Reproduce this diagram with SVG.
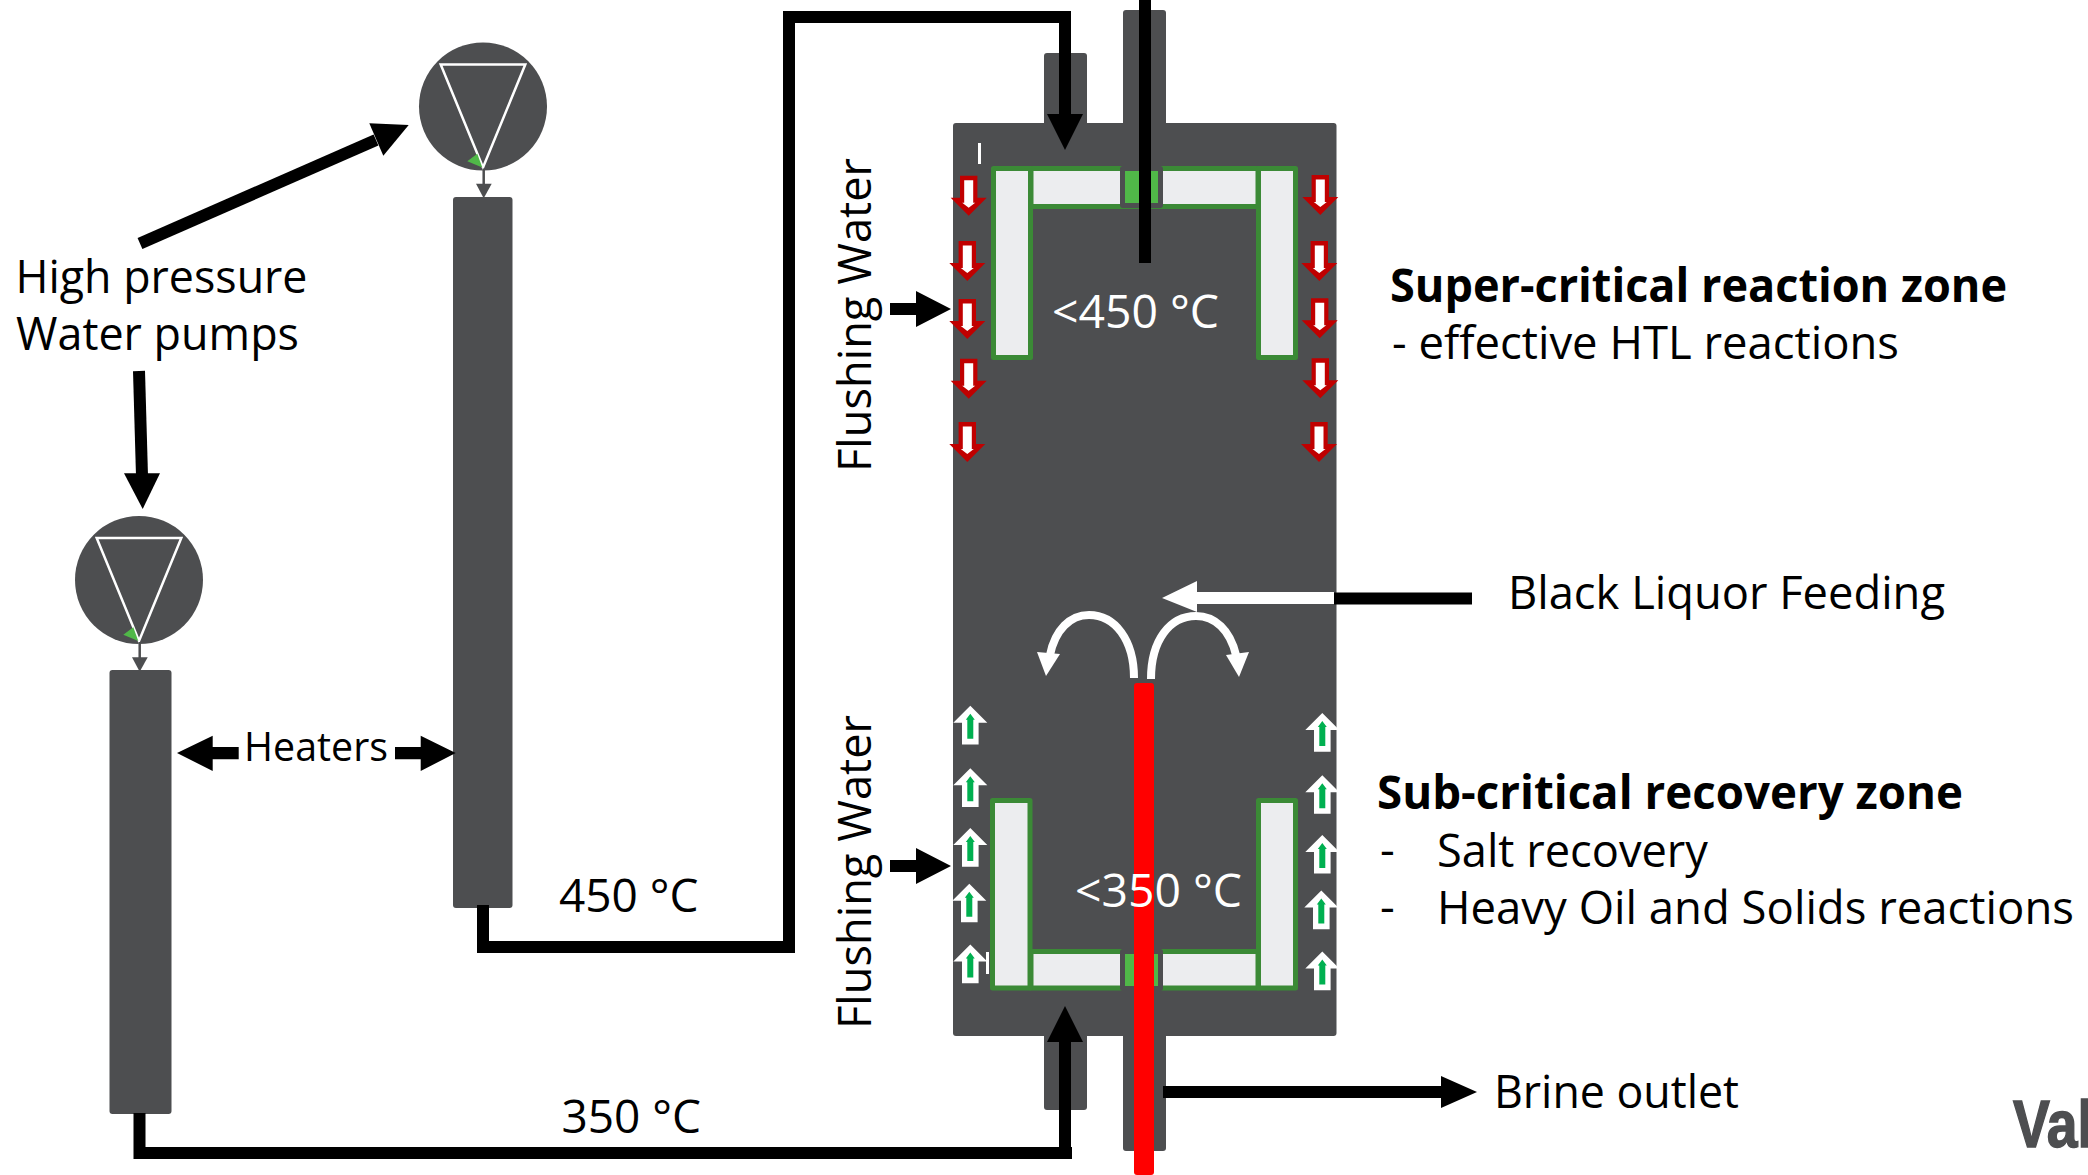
<svg xmlns="http://www.w3.org/2000/svg" width="2088" height="1175" viewBox="0 0 2088 1175">
<style>
text{font-family:"Open Sans","Noto Sans","Liberation Sans",sans-serif;font-size:46px;fill:#000}
.w{fill:#fff}.b{font-weight:700}
.d{fill:#4D4E50}.pipe{fill:none;stroke:#000;stroke-width:12}
.panel{fill:#ECEDEF;stroke:#3B8A36;stroke-width:5;stroke-linejoin:round}
.k{fill:#000}
</style>
<defs>
<g id="ra"><path d="M-8.700 0H8.700V22H18L0 40L-18 22H-8.700Z" fill="#C00000"/><path d="M-4.500 4.500H4.500V27H6.500L0 32L-6.500 27H-4.500Z" fill="#fff"/></g>
<g id="ga"><path d="M0 0L17 17H8.300V38.600H-8.300V17H-17Z" fill="#fff"/><path d="M0 8L4.500 14H3V33H-3V14H-4.500Z" fill="#00B050"/></g>
<g id="pmp"><circle r="64" class="d"/><path d="M-42.300 -42H42.300L0 61Z" fill="none" stroke="#fff" stroke-width="2.500"/><path d="M-5.700 47.300L-15.700 54.700L-.7 61Z" fill="#50B848"/><path d="M.7 62V78" stroke="#4D4E50" stroke-width="2.500"/><path d="M-7 77.300H8.700L.7 91.700Z" class="d"/></g>
</defs>
<g id="vessel">
<rect x="1044" y="53" width="43" height="90" rx="3" class="d"/>
<rect x="1123" y="10" width="43" height="130" rx="3" class="d"/>
<rect x="1044" y="1000" width="43" height="110" rx="3" class="d"/>
<rect x="1123" y="1000" width="43" height="151" rx="3" class="d"/>
<rect x="953" y="123" width="383.500" height="913" rx="3" class="d"/>
</g>
<g id="top-panels">
<rect x="1031" y="168.500" width="227" height="38" class="panel"/>
<rect x="993.500" y="168.500" width="37" height="189" class="panel"/>
<rect x="1258.500" y="168.500" width="37" height="189" class="panel"/>
<rect x="1120" y="166" width="43" height="42" rx="3" class="d"/>
<rect x="1125" y="171" width="33" height="32" fill="#50B848"/>
</g>
<g id="bottom-panels">
<rect x="1031" y="951.500" width="227" height="36.500" class="panel"/>
<rect x="992.500" y="800.500" width="37.500" height="187.500" class="panel"/>
<rect x="1258.500" y="800.500" width="37" height="187.500" class="panel"/>
<rect x="1120" y="949" width="43" height="42" rx="3" class="d"/>
<rect x="1125" y="954" width="33" height="32" fill="#50B848"/>
</g>
<g id="flush-arrows-top">
<use href="#ra" x="968.700" y="175.700"/><use href="#ra" x="967.300" y="241"/><use href="#ra" x="967.300" y="299"/><use href="#ra" x="968.700" y="358.700"/><use href="#ra" x="967.300" y="422"/>
<use href="#ra" x="1320.300" y="175"/><use href="#ra" x="1319.300" y="241"/><use href="#ra" x="1319.700" y="298.300"/><use href="#ra" x="1320.300" y="358.300"/><use href="#ra" x="1319" y="422"/>
</g>
<g id="flush-arrows-bottom">
<use href="#ga" x="970.300" y="705.800"/><use href="#ga" x="970.300" y="768.300"/><use href="#ga" x="970.300" y="828.100"/><use href="#ga" x="969.300" y="883.700"/><use href="#ga" x="970.300" y="944.600"/>
<use href="#ga" x="1322.300" y="713.100"/><use href="#ga" x="1322.300" y="775.200"/><use href="#ga" x="1322.300" y="835"/><use href="#ga" x="1321.300" y="890.600"/><use href="#ga" x="1322.300" y="951.600"/>
</g>
<g id="marks"><rect x="978" y="143" width="3" height="21" fill="#fff"/><rect x="986" y="952" width="3" height="22" fill="#fff"/></g>
<g id="pump-1"><use href="#pmp" x="483" y="106.500"/></g>
<rect id="heater-1" x="453" y="197" width="59.500" height="711" rx="3" class="d"/>
<g id="pump-2"><use href="#pmp" x="139" y="580"/></g>
<rect id="heater-2" x="109.500" y="670" width="62" height="444" rx="3" class="d"/>
<g id="connectors">
<path class="pipe" d="M483 905V947H789"/>
<path class="pipe" d="M789 953V17H1065V118"/>
<path d="M1047 114H1083L1065 150Z" class="k"/>
<path class="pipe" d="M139.500 1113V1153H1072"/>
<path class="pipe" d="M1065 1153V1038"/>
<path d="M1047 1042H1083L1065 1006Z" class="k"/>
<path d="M1139 0H1151V263H1139Z" class="k"/>
<path d="M1334 592.500H1472V604.500H1334Z" class="k"/>
<path d="M1163 1086H1441V1076L1477 1092L1441 1108V1098H1163Z" class="k"/>
<path d="M890 303H916V291L951 309L916 327V315H890Z" class="k"/>
<path d="M890 860H916V848L951 866L916 884V872H890Z" class="k"/>
<path d="M140 243.500L376 140" stroke="#000" stroke-width="12" fill="none"/>
<path d="M408.700 125L369.300 123.300L383.300 155.700Z" class="k"/>
<path d="M139 371L142 476" stroke="#000" stroke-width="12" fill="none"/>
<path d="M142.700 509L124 473.300H160Z" class="k"/>
<path d="M238.700 747H212.700V735.700L177 753L212.700 771V759.300H238.700Z" class="k"/>
<path d="M395 747H420.700V735.700L455.700 753L420.700 771V759.300H395Z" class="k"/>
<path d="M1334 592H1197V581L1162 598L1197 612L1197 604H1334Z" fill="#fff"/>
<path d="M1134 678C1134 640 1115 615 1089 615C1070 615 1055 630 1050 655" fill="none" stroke="#fff" stroke-width="8"/>
<path d="M1046 676L1037 652L1060 654Z" fill="#fff"/>
<path d="M1151 679C1151 640 1170 616 1196 616C1215 616 1230 630 1236 655" fill="none" stroke="#fff" stroke-width="8"/>
<path d="M1239 677L1226 655L1249 652Z" fill="#fff"/>
<rect x="1134" y="683" width="20" height="492" rx="3" fill="#FF0000"/>
</g>
<g id="labels">
<text x="1052" y="328" class="w" textLength="167" lengthAdjust="spacingAndGlyphs">&lt;450 °C</text>
<text x="1075" y="906.500" class="w" textLength="167" lengthAdjust="spacingAndGlyphs">&lt;350 °C</text>
<text x="15.500" y="293" textLength="292" lengthAdjust="spacingAndGlyphs">High pressure</text>
<text x="16" y="350" textLength="283" lengthAdjust="spacingAndGlyphs">Water pumps</text>
<text x="244" y="761" style="font-size:41px" textLength="144" lengthAdjust="spacingAndGlyphs">Heaters</text>
<text x="559" y="912">450 °C</text>
<text x="561.500" y="1133">350 °C</text>
<text transform="translate(871 472) rotate(-90)" textLength="314" lengthAdjust="spacingAndGlyphs">Flushing Water</text>
<text transform="translate(871 1029) rotate(-90)" textLength="314" lengthAdjust="spacingAndGlyphs">Flushing Water</text>
<text x="1390" y="302" class="b" textLength="617" lengthAdjust="spacingAndGlyphs">Super-critical reaction zone</text>
<text x="1392" y="359" textLength="507" lengthAdjust="spacingAndGlyphs">- effective HTL reactions</text>
<text x="1508" y="609" textLength="437" lengthAdjust="spacingAndGlyphs">Black Liquor Feeding</text>
<text x="1377" y="809" class="b" textLength="586" lengthAdjust="spacingAndGlyphs">Sub-critical recovery zone</text>
<text x="1380" y="866">-</text><text x="1437" y="867" textLength="271" lengthAdjust="spacingAndGlyphs">Salt recovery</text>
<text x="1380" y="923">-</text><text x="1437" y="924" textLength="637" lengthAdjust="spacingAndGlyphs">Heavy Oil and Solids reactions</text>
<text x="1494" y="1108" textLength="245" lengthAdjust="spacingAndGlyphs">Brine outlet</text>
<text x="2013" y="1147" textLength="80" lengthAdjust="spacingAndGlyphs" style="font-family:'Liberation Sans',sans-serif;font-weight:700;font-size:66px;fill:#4D4E50;stroke:#4D4E50;stroke-width:1.500">Val</text>
</g>
</svg>
